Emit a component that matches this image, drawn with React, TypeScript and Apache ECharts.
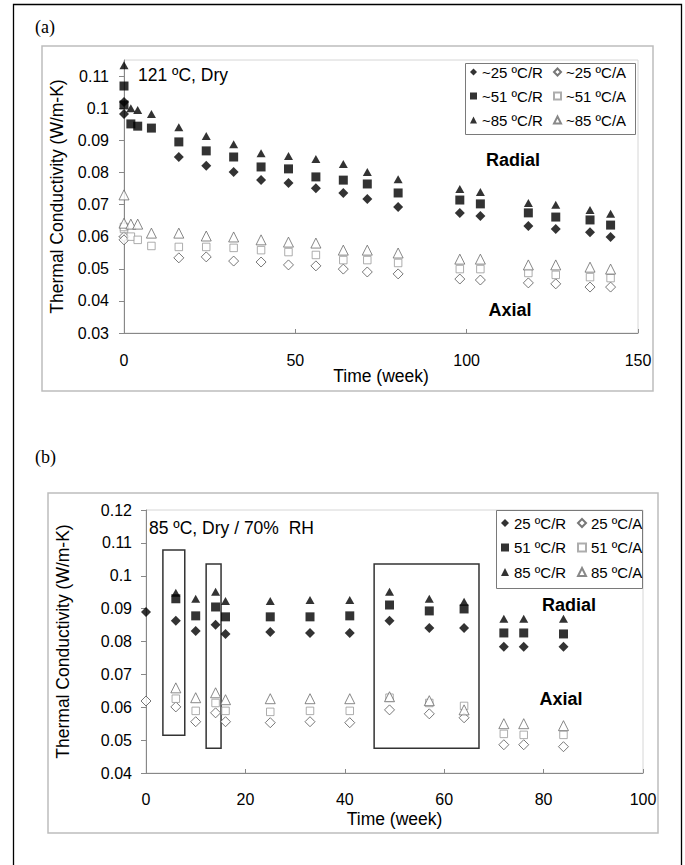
import React, { useEffect, useRef } from "react";
import * as echarts from "echarts";

// ---------- Data: chart (a) 121 ºC, Dry ----------
const weeksR25a = [0, 0, 16, 24, 32, 40, 48, 56, 64, 71, 80, 98, 104, 118, 126, 136, 142];
const r25a = [0.1019, 0.0982, 0.0848, 0.0821, 0.0801, 0.0776, 0.0767, 0.0751, 0.0736, 0.0717, 0.0692, 0.0674, 0.0664, 0.0633, 0.0624, 0.0614, 0.0599];
const weeksA25a = [0, 0, 16, 24, 32, 40, 48, 56, 64, 71, 80, 98, 104, 118, 126, 136, 142];
const a25a = [0.0600, 0.0590, 0.0534, 0.0537, 0.0524, 0.0521, 0.0512, 0.0509, 0.0499, 0.0490, 0.0484, 0.0468, 0.0465, 0.0456, 0.0453, 0.0443, 0.0443];

const weeksR51a = [0, 0, 2, 4, 8, 16, 24, 32, 40, 48, 56, 64, 71, 80, 98, 104, 118, 126, 136, 142];
const r51a = [0.1069, 0.1010, 0.0951, 0.0944, 0.0938, 0.0895, 0.0867, 0.0848, 0.0817, 0.0811, 0.0786, 0.0776, 0.0764, 0.0736, 0.0714, 0.0702, 0.0674, 0.0661, 0.0652, 0.0636];
const weeksA51a = [0, 0, 2, 4, 8, 16, 24, 32, 40, 48, 56, 64, 71, 80, 98, 104, 118, 126, 136, 142];
const a51a = [0.0624, 0.0630, 0.0600, 0.0590, 0.0571, 0.0568, 0.0568, 0.0565, 0.0558, 0.0552, 0.0543, 0.0527, 0.0527, 0.0518, 0.0499, 0.0499, 0.0487, 0.0481, 0.0474, 0.0471];

const weeksR85a = [0, 2, 4, 8, 16, 24, 32, 40, 48, 56, 64, 71, 80, 98, 104, 118, 126, 136, 142];
const r85a = [0.1134, 0.1000, 0.0994, 0.0982, 0.0941, 0.0913, 0.0888, 0.0860, 0.0851, 0.0842, 0.0826, 0.0801, 0.0779, 0.0748, 0.0739, 0.0705, 0.0699, 0.0683, 0.0671];
const weeksA85a = [0, 0, 2, 4, 8, 16, 24, 32, 40, 48, 56, 64, 71, 80, 98, 104, 118, 126, 136, 142];
const a85a = [0.0730, 0.0642, 0.0639, 0.0639, 0.0611, 0.0611, 0.0602, 0.0599, 0.0590, 0.0583, 0.0580, 0.0558, 0.0558, 0.0549, 0.0530, 0.0530, 0.0512, 0.0512, 0.0505, 0.0499];

// ---------- Data: chart (b) 85 ºC, Dry / 70% RH ----------
const weeks25b = [0, 6, 10, 14, 16, 25, 33, 41, 49, 57, 64, 72, 76, 84];
const r25b = [0.0890, 0.0863, 0.0832, 0.0851, 0.0823, 0.0829, 0.0826, 0.0826, 0.0863, 0.0841, 0.0841, 0.0784, 0.0784, 0.0784];
const a25b = [0.0619, 0.0601, 0.0556, 0.0583, 0.0556, 0.0553, 0.0556, 0.0553, 0.0592, 0.0580, 0.0568, 0.0486, 0.0486, 0.0480];
const weeks51b = [6, 10, 14, 16, 25, 33, 41, 49, 57, 64, 72, 76, 84];
const r51b = [0.0930, 0.0878, 0.0905, 0.0875, 0.0875, 0.0875, 0.0878, 0.0911, 0.0893, 0.0899, 0.0826, 0.0826, 0.0823];
const a51b = [0.0626, 0.0589, 0.0613, 0.0589, 0.0586, 0.0589, 0.0589, 0.0629, 0.0613, 0.0604, 0.0519, 0.0516, 0.0516];
const weeks85b = [6, 10, 14, 16, 25, 33, 41, 49, 57, 64, 72, 76, 84];
const r85b = [0.0948, 0.0930, 0.0951, 0.0923, 0.0923, 0.0926, 0.0926, 0.0951, 0.0930, 0.0921, 0.0869, 0.0869, 0.0869];
const a85b = [0.0659, 0.0629, 0.0644, 0.0623, 0.0626, 0.0626, 0.0626, 0.0632, 0.0620, 0.0592, 0.0550, 0.0550, 0.0544];

// highlight boxes in (b): week range and conductivity range
const boxWeekFrom = [3.4, 12.1, 45.9];
const boxWeekTo = [7.8, 15.1, 67.0];
const boxTop = [0.1078, 0.1036, 0.1036];
const boxBottom = [0.0515, 0.0475, 0.0475];

// ---------- Ticks / labels ----------
const xTicksA = [0, 50, 100, 150];
const yTicksA = [0.03, 0.04, 0.05, 0.06, 0.07, 0.08, 0.09, 0.1, 0.11];
const xTicksB = [0, 20, 40, 60, 80, 100];
const yTicksB = [0.04, 0.05, 0.06, 0.07, 0.08, 0.09, 0.1, 0.11, 0.12];

const namesA = ["~25 ºC/R", "~25 ºC/A", "~51 ºC/R", "~51 ºC/A", "~85 ºC/R", "~85 ºC/A"];
const namesB = ["25 ºC/R", "25 ºC/A", "51 ºC/R", "51 ºC/A", "85 ºC/R", "85 ºC/A"];
const yTitle = "Thermal Conductivity (W/m-K)";
const xTitle = "Time (week)";

const FONT = '"Liberation Sans", Arial, Helvetica, sans-serif';
const SERIF = '"Liberation Serif", "Times New Roman", serif';

type Sym = { symbol: string; size: number | number[]; filled: boolean; border: string };
const STY: Sym[] = [
  { symbol: "diamond", size: 10, filled: true, border: "#000" },
  { symbol: "diamond", size: 10, filled: false, border: "#555" },
  { symbol: "rect", size: 9, filled: true, border: "#000" },
  { symbol: "rect", size: 7.5, filled: false, border: "#999" },
  { symbol: "triangle", size: [9, 8], filled: true, border: "#000" },
  { symbol: "triangle", size: 10, filled: false, border: "#6a6a6a" },
];

function mk(name: string, weeks: number[], vals: number[], sty: Sym, idx: number, extra: any = {}) {
  return {
    type: "scatter",
    name,
    xAxisIndex: idx,
    yAxisIndex: idx,
    symbol: sty.symbol,
    symbolSize: sty.size,
    itemStyle: sty.filled
      ? { color: "#000", borderColor: "#000", borderWidth: 0 }
      : { color: "#fff", borderColor: sty.border, borderWidth: 1 },
    emphasis: { disabled: true },
    data: weeks.map((w, i) => [w, vals[i]]),
    ...extra,
  };
}

function xAxis(idx: number, max: number, interval: number, ticks: number[], labelMargin: number, nameGap: number) {
  return {
    type: "value",
    gridIndex: idx,
    min: 0,
    max,
    interval,
    name: xTitle,
    nameLocation: "middle",
    nameGap,
    nameMoveOverlap: false,
    nameTextStyle: { fontSize: 17.5, color: "#000", fontFamily: FONT },
    axisLine: { show: true, onZero: false, lineStyle: { color: "#888", width: 1 } },
    axisTick: { show: true, inside: true, length: 4, customValues: ticks, lineStyle: { color: "#888" } },
    axisLabel: { show: true, margin: labelMargin, fontSize: 16, color: "#000", fontFamily: FONT, customValues: ticks, formatter: (v: number) => String(v) },
    splitLine: { show: false },
  };
}

function yAxis(idx: number, min: number, max: number, ticks: number[], labelMargin: number, nameGap: number) {
  return {
    type: "value",
    gridIndex: idx,
    min,
    max,
    interval: 0.01,
    name: yTitle,
    nameLocation: "middle",
    nameGap,
    nameMoveOverlap: false,
    nameRotate: 90,
    nameTextStyle: { fontSize: 17.5, color: "#000", fontFamily: FONT },
    axisLine: { show: true, onZero: false, lineStyle: { color: "#888", width: 1 } },
    axisTick: { show: true, inside: false, length: 5, customValues: ticks, lineStyle: { color: "#888" } },
    axisLabel: { show: true, margin: labelMargin, fontSize: 16, color: "#000", fontFamily: FONT, customValues: ticks, formatter: (v: number) => String(+Number(v).toFixed(3)) },
    splitLine: { show: false },
  };
}

function legend(names: string[], left: number, top: number, gap: number, icon: number) {
  return {
    orient: "vertical",
    left,
    top,
    padding: 0,
    itemGap: gap,
    itemWidth: icon,
    itemHeight: icon,
    selectedMode: false,
    data: names,
    textStyle: { fontSize: 15, lineHeight: 16, color: "#000", fontFamily: FONT, padding: 0 },
  };
}

function txt(text: string, x: number, y: number, font: string, align = "left") {
  return {
    type: "text",
    x,
    y,
    silent: true,
    style: { text, font, fill: "#000", align, verticalAlign: "middle", textAlign: align, textVerticalAlign: "middle" },
  };
}

function box(x: number, y: number, w: number, h: number, stroke: string, lw: number) {
  return {
    type: "rect",
    silent: true,
    shape: { x, y, width: w, height: h },
    style: { fill: "none", stroke, lineWidth: lw },
  };
}

export default function App() {
  const ref = useRef<HTMLDivElement>(null);
  useEffect(() => {
    if (!ref.current) return;
    const chart = echarts.init(ref.current, undefined, { renderer: "svg" });

    const boxes = boxWeekFrom.map((x1, i) => [
      { xAxis: x1, yAxis: boxTop[i] },
      { xAxis: boxWeekTo[i], yAxis: boxBottom[i] },
    ]);

    const option: any = {
      animation: false,
      backgroundColor: "#fff",
      textStyle: { fontFamily: FONT, color: "#000" },
      grid: [
        { left: 124, top: 60, width: 514, height: 273, show: true, borderColor: "#d6d6d6", borderWidth: 1, containLabel: false, outerBoundsMode: "none" },
        { left: 146, top: 510, width: 497, height: 263, show: true, borderColor: "#d6d6d6", borderWidth: 1, containLabel: false, outerBoundsMode: "none" },
      ],
      xAxis: [xAxis(0, 150, 50, xTicksA, 19, 34), xAxis(1, 100, 20, xTicksB, 18, 37)],
      yAxis: [yAxis(0, 0.03, 0.115, yTicksA, 15, 58), yAxis(1, 0.04, 0.12, yTicksB, 14, 74)],
      legend: [
        legend([namesA[0], namesA[2], namesA[4]], 470, 64, 8, 7),
        legend([namesA[1], namesA[3], namesA[5]], 553, 64, 8, 7),
        legend([namesB[0], namesB[2], namesB[4]], 501, 515, 8.5, 8),
        legend([namesB[1], namesB[3], namesB[5]], 577, 515, 8.5, 8),
      ],
      series: [
        mk(namesA[0], weeksR25a, r25a, STY[0], 0),
        mk(namesA[1], weeksA25a, a25a, STY[1], 0),
        mk(namesA[2], weeksR51a, r51a, STY[2], 0),
        mk(namesA[3], weeksA51a, a51a, STY[3], 0),
        mk(namesA[4], weeksR85a, r85a, STY[4], 0),
        mk(namesA[5], weeksA85a, a85a, STY[5], 0),
        mk(namesB[0], weeks25b, r25b, STY[0], 1, {
          markArea: {
            silent: true,
            label: { show: false },
            itemStyle: { color: "rgba(0,0,0,0)", borderColor: "#333", borderWidth: 1.5 },
            data: boxes,
          },
        }),
        mk(namesB[1], weeks25b, a25b, STY[1], 1),
        mk(namesB[2], weeks51b, r51b, STY[2], 1),
        mk(namesB[3], weeks51b, a51b, STY[3], 1),
        mk(namesB[4], weeks85b, r85b, STY[4], 1),
        mk(namesB[5], weeks85b, a85b, STY[5], 1),
      ],
      graphic: [
        box(13.5, 4.5, 668, 872, "#000", 1.3),
        box(42, 46, 611, 345, "#bdbdbd", 1.5),
        box(48, 493, 610, 340, "#bdbdbd", 1.5),
        box(465.5, 63.5, 170, 71, "#7a7a7a", 1),
        box(496.5, 510.5, 146, 78, "#7a7a7a", 1),
        txt("(a)", 35, 27, `18px ${SERIF}`),
        txt("(b)", 35, 457, `18px ${SERIF}`),
        txt("121 ºC, Dry", 138, 75, `17.5px ${FONT}`),
        txt("85 ºC, Dry / 70%  RH", 149, 528, `17.5px ${FONT}`),
        txt("Radial", 513, 160, `bold 18px ${FONT}`, "center"),
        txt("Axial", 510, 310, `bold 18px ${FONT}`, "center"),
        txt("Radial", 569, 605, `bold 18px ${FONT}`, "center"),
        txt("Axial", 561, 699, `bold 18px ${FONT}`, "center"),
      ],
    };
    chart.setOption(option);
    return () => chart.dispose();
  }, []);
  return <div ref={ref} style={{ position: "absolute", left: 0, top: 0, width: 685, height: 865 }} />;
}
